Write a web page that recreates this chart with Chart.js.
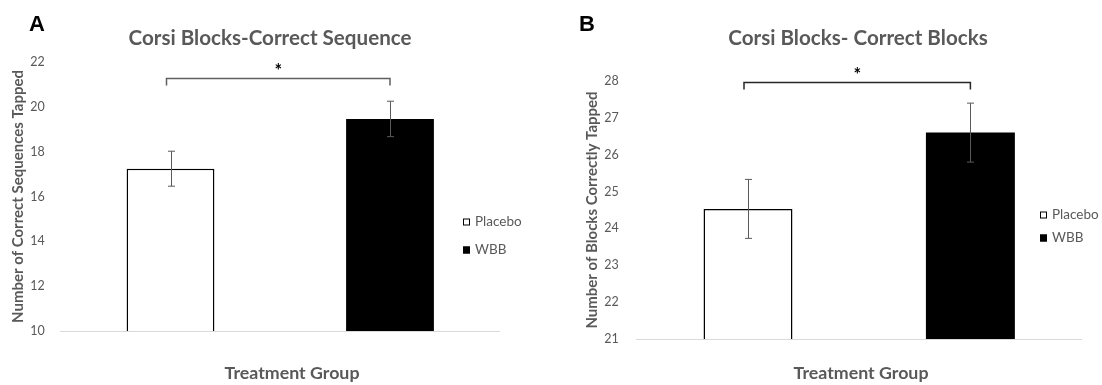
<!DOCTYPE html>
<html>
<head>
<meta charset="utf-8">
<script src="https://cdn.jsdelivr.net/npm/chart.js@4"></script>
<style>
    body { margin: 0; background: #fff; }
    #page { position: relative; width: 1102px; height: 385px; overflow: hidden; font-family: Lato, "Open Sans", sans-serif; }
    .panel { position: absolute; top: 0; width: 551px; height: 385px; }
    .letter { position: absolute; top: 11px; font: bold 22px "Liberation Sans", Arial, sans-serif; color: #000; }
    .title { position: absolute; top: 25px; font-weight: bold; font-size: 20.6px; color: #595959; white-space: nowrap; transform: translateX(-50%); }
    .xtitle { position: absolute; top: 361px; font-weight: bold; font-size: 17.8px; color: #595959; white-space: nowrap; transform: translateX(-50%); }
</style>
</head>
<body>
<div id="page">
    <div class="panel" style="left:0">
        <canvas id="seqChart" width="551" height="385"></canvas>
    </div>
    <div class="panel" style="left:551px">
        <canvas id="blockChart" width="551" height="385"></canvas>
    </div>
    <div class="letter" style="left:29px">A</div>
    <div class="letter" style="left:579px">B</div>
    <div class="title" style="left:270px">Corsi Blocks-Correct Sequence</div>
    <div class="title" style="left:858px">Corsi Blocks- Correct Blocks</div>
    <div class="xtitle" style="left:292px">Treatment Group</div>
    <div class="xtitle" style="left:861px">Treatment Group</div>
</div>
<script>
// Data
const groups = ['Placebo', 'WBB'];
const seqMeans = [17.24, 19.46];
const seqErrors = [0.78, 0.79];
const blockMeans = [24.53, 26.6];
const blockErrors = [0.80, 0.80];
const seqTicks = [10, 12, 14, 16, 18, 20, 22];
const blockTicks = [21, 22, 23, 24, 25, 26, 27, 28];
const seqBracket = 21.3;
const blockBracket = 27.96;

const TEXT = '#595959';
const fills = ['#ffffff', '#000000'];

// Error bars from the y scale
const errorBars = {
    id: 'errorBars',
    afterDatasetsDraw(chart, args, opts) {
        const ctx = chart.ctx;
        const y = chart.scales.y;
        ctx.save();
        ctx.strokeStyle = '#5a5a5a';
        ctx.lineWidth = 1;
        chart.data.datasets.forEach((ds, i) => {
            const bar = chart.getDatasetMeta(i).data[0];
            const v = ds.data[0];
            const e = opts.errors[i];
            const x = Math.round(bar.x) + 0.5;
            const top = y.getPixelForValue(v + e);
            const bot = y.getPixelForValue(v - e);
            ctx.beginPath();
            ctx.moveTo(x, top); ctx.lineTo(x, bot);
            ctx.moveTo(x - 3.5, top); ctx.lineTo(x + 3.5, top);
            ctx.moveTo(x - 3.5, bot); ctx.lineTo(x + 3.5, bot);
            ctx.stroke();
        });
        ctx.restore();
    }
};

// Significance bracket and star
const bracket = {
    id: 'bracket',
    afterDraw(chart, args, opts) {
        const ctx = chart.ctx;
        const y = chart.scales.y;
        const a = chart.getDatasetMeta(0).data[0].x - 4;
        const b = chart.getDatasetMeta(1).data[0].x;
        const yy = Math.round(y.getPixelForValue(opts.level)) + 0.5;
        ctx.save();
        ctx.strokeStyle = opts.color;
        ctx.lineWidth = 1.5;
        ctx.beginPath();
        ctx.moveTo(a, yy + 7); ctx.lineTo(a, yy); ctx.lineTo(b, yy); ctx.lineTo(b, yy + 7);
        ctx.stroke();
        ctx.fillStyle = '#000';
        ctx.font = 'bold 18px Lato, sans-serif';
        ctx.textAlign = 'center';
        ctx.textBaseline = 'middle';
        ctx.fillText('*', (a + b) / 2, yy - 7);
        ctx.restore();
    }
};

// Small square legend placed like the original
const boxLegend = {
    id: 'boxLegend',
    afterDraw(chart, args, opts) {
        const ctx = chart.ctx;
        ctx.save();
        ctx.font = '13.5px Lato, sans-serif';
        ctx.textBaseline = 'middle';
        chart.data.datasets.forEach((ds, i) => {
            const cy = opts.rows[i];
            ctx.fillStyle = ds.backgroundColor;
            ctx.fillRect(opts.x, cy - 3.5, 7, 7);
            ctx.strokeStyle = '#000';
            ctx.lineWidth = 1;
            ctx.strokeRect(opts.x + 0.5, cy - 3, 6, 6);
            ctx.fillStyle = TEXT;
            ctx.fillText(ds.label, opts.x + 12, cy);
        });
        ctx.restore();
    }
};

function makeChart(id, cfg) {
    const ctx = document.getElementById(id).getContext('2d');
    return new Chart(ctx, {
        type: 'bar',
        data: {
            labels: [''],
            datasets: groups.map((g, i) => ({
                label: g,
                data: [cfg.means[i]],
                backgroundColor: fills[i],
                borderColor: '#000',
                borderWidth: i === 0 ? 1.5 : 0,
                borderSkipped: false,
                categoryPercentage: 1,
                barPercentage: 0.4
            }))
        },
        plugins: [errorBars, bracket, boxLegend],
        options: {
            responsive: false,
            devicePixelRatio: 1,
            animation: false,
            layout: {
                padding: { left: 0, top: cfg.top, right: cfg.right, bottom: 0 }
            },
            plugins: {
                legend: { display: false },
                title: { display: false },
                tooltip: { enabled: false },
                errorBars: { errors: cfg.errors },
                bracket: { level: cfg.bracket, color: cfg.bracketColor },
                boxLegend: cfg.legend
            },
            scales: {
                x: {
                    grid: { display: false, drawTicks: false },
                    border: { display: true, color: '#d9d9d9', width: 1 },
                    ticks: { display: false },
                    afterFit: s => { s.height = cfg.xHeight; }
                },
                y: {
                    min: cfg.ticks[0],
                    max: cfg.ticks[cfg.ticks.length - 1],
                    afterBuildTicks: s => { s.ticks = cfg.ticks.map(v => ({ value: v })); },
                    grid: { display: false, drawTicks: false },
                    border: { display: false },
                    ticks: {
                        color: TEXT,
                        padding: cfg.tickPad,
                        font: { family: 'Lato', size: 12.5 }
                    },
                    title: {
                        display: true,
                        text: cfg.yTitle,
                        color: TEXT,
                        font: { family: 'Lato', size: 15, weight: 'bold' },
                        padding: { top: cfg.titlePad, bottom: 0 }
                    },
                    afterFit: s => { s.width = cfg.yWidth; }
                }
            }
        }
    });
}

makeChart('seqChart', {
    means: seqMeans, errors: seqErrors, ticks: seqTicks, bracket: seqBracket, bracketColor: '#606060',
    top: 62, right: 51.25, xHeight: 54, yWidth: 60.75, tickPad: 16, titlePad: 9,
    yTitle: 'Number of Correct Sequences Tapped',
    legend: { x: 463, rows: [222, 250] }
});

makeChart('blockChart', {
    means: blockMeans, errors: blockErrors, ticks: blockTicks, bracket: blockBracket, bracketColor: '#262626',
    top: 81, right: 20.4, xHeight: 46, yWidth: 85.8, tickPad: 18, titlePad: 32.5,
    yTitle: 'Number of Blocks Correctly Tapped',
    legend: { x: 489, rows: [215, 238] }
});
</script>
</body>
</html>
